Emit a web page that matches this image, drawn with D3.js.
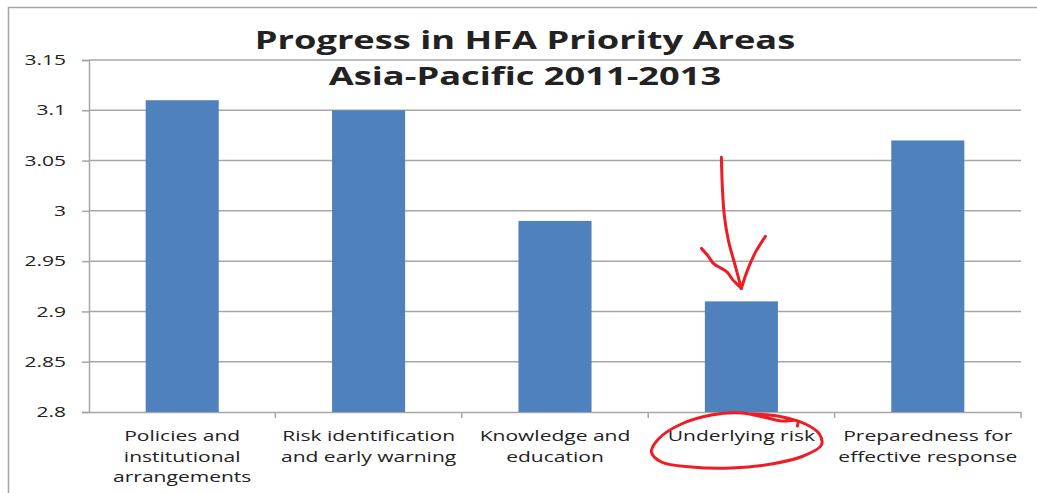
<!DOCTYPE html>
<html>
<head>
<meta charset="utf-8">
<script src="https://cdn.jsdelivr.net/npm/d3@7/dist/d3.min.js"></script>
<style>
  html, body { margin: 0; padding: 0; background: #fff; }
  svg { display: block; }
  text { font-family: "Open Sans", "Noto Sans", sans-serif; fill: #222; }
</style>
</head>
<body>
<svg id="chart" width="1037" height="493"></svg>
<script>
// Average progress score per HFA priority area, Asia-Pacific 2011-2013
const categories = [
  "Policies and institutional arrangements",
  "Risk identification and early warning",
  "Knowledge and education",
  "Underlying risk",
  "Preparedness for effective response"
];
const categoryLines = [
  ["Policies and", "institutional", "arrangements"],
  ["Risk identification", "and early warning"],
  ["Knowledge and", "education"],
  ["Underlying risk"],
  ["Preparedness for", "effective response"]
];
const scores = [3.11, 3.10, 2.99, 2.91, 3.07];
const yTicks = [2.8, 2.85, 2.9, 2.95, 3.0, 3.05, 3.1, 3.15];
const yTickLabels = ["2.8", "2.85", "2.9", "2.95", "3", "3.05", "3.1", "3.15"];
const titleLines = ["Progress in HFA Priority Areas", "Asia-Pacific 2011-2013"];
const highlighted = "Underlying risk";

const svg = d3.select("#chart");
const W = 1037, H = 493;
const plot = { left: 89, right: 1021, top: 60, bottom: 412 };
const stretch = 1.45;   // wide lettering used throughout the chart

// chart frame (top and left edges)
svg.append("path")
  .attr("d", `M8.5,${H} V7.5 H${W}`)
  .attr("fill", "none")
  .attr("stroke", "#a6a6a6")
  .attr("stroke-width", 1.5);

const x = d3.scaleBand()
  .domain(categories)
  .range([plot.left, plot.right])
  .paddingInner(0.608)
  .paddingOuter(0.304);

const y = d3.scaleLinear()
  .domain([2.8, 3.15])
  .range([plot.bottom, plot.top]);

// horizontal gridlines
svg.append("g")
  .selectAll("line")
  .data(yTicks.slice(1))
  .join("line")
  .attr("x1", plot.left)
  .attr("x2", plot.right)
  .attr("y1", d => y(d))
  .attr("y2", d => y(d))
  .attr("stroke", "#a6a6a6")
  .attr("stroke-width", 1.5);

// y axis
const tickLen = 7, tickPad = 16;
const yAxis = d3.axisLeft(y)
  .tickValues(yTicks)
  .tickFormat((d, i) => yTickLabels[i])
  .tickSize(tickLen)
  .tickPadding(tickPad);
const gy = svg.append("g")
  .attr("transform", `translate(${plot.left},0)`)
  .call(yAxis);
gy.select(".domain").attr("stroke", "#a6a6a6").attr("stroke-width", 1.5);
gy.selectAll(".tick line").attr("stroke", "#a6a6a6").attr("stroke-width", 1.5);
gy.selectAll(".tick text")
  .style("font-family", '"Open Sans", sans-serif')
  .style("font-size", "14.5px")
  .attr("fill", "#222")
  .attr("x", 0)
  .attr("transform", `translate(${-(tickLen + tickPad)},0) scale(${stretch},1)`);

// x axis with category ticks at band boundaries
const gx = svg.append("g")
  .attr("transform", `translate(0,${plot.bottom})`)
  .call(d3.axisBottom(x).tickSize(0).tickFormat(""));
gx.select(".domain").attr("stroke", "#a6a6a6").attr("stroke-width", 1.5);
const boundaries = d3.range(1, categories.length + 1).map(i => plot.left + i * x.step());
svg.append("g")
  .selectAll("line")
  .data(boundaries)
  .join("line")
  .attr("x1", d => d)
  .attr("x2", d => d)
  .attr("y1", plot.bottom)
  .attr("y2", plot.bottom + 6)
  .attr("stroke", "#a6a6a6")
  .attr("stroke-width", 1.5);

// bars
svg.append("g")
  .selectAll("rect")
  .data(scores)
  .join("rect")
  .attr("x", (d, i) => x(categories[i]))
  .attr("width", x.bandwidth())
  .attr("y", d => y(d))
  .attr("height", d => y(2.8) - y(d))
  .attr("fill", "#4f81bd");

// category labels
const labels = svg.append("g")
  .selectAll("text")
  .data(categories)
  .join("text")
  .attr("text-anchor", "middle")
  .style("font-size", "14.5px")
  .attr("transform", c => `translate(${x(c) + x.bandwidth() / 2},${plot.bottom + 29}) scale(${stretch},1)`);
labels.selectAll("tspan")
  .data((c, i) => categoryLines[i])
  .join("tspan")
  .attr("x", 0)
  .attr("dy", (d, i) => i === 0 ? 0 : 20.6)
  .text(d => d);

// title
svg.append("text")
  .attr("text-anchor", "middle")
  .attr("transform", `translate(525,0) scale(${stretch},1)`)
  .style("font-size", "25px")
  .style("font-weight", "700")
  .attr("fill", "#000")
  .selectAll("tspan")
  .data(titleLines)
  .join("tspan")
  .attr("x", 0)
  .attr("y", (d, i) => 49 + i * 36)
  .text(d => d);

// hand-drawn highlight around the weakest area
const hx = x(highlighted) + x.bandwidth() / 2;
const hv = scores[categories.indexOf(highlighted)];
const tipY = y(hv) - 13;
const pen = d3.line().curve(d3.curveCatmullRom.alpha(0.5));
const ink = "#ee1c25";

const shaft = [[-20, -131], [-19, -100], [-17, -72], [-13, -48], [-6, -22], [0, 0]];
const headLeft = [[-40, -40], [-33, -32], [-28, -25], [-20, -20], [-14, -16], [-9, -9], [-4, -4], [0, 0]];
const headRight = [[24, -52], [14, -36], [6, -18], [0, 0]];
[shaft, headLeft, headRight].forEach(pts => {
  svg.append("path")
    .attr("d", pen(pts.map(([dx, dy]) => [hx + dx, tipY + dy])))
    .attr("fill", "none")
    .attr("stroke", ink)
    .attr("stroke-width", 3)
    .attr("stroke-linecap", "round")
    .attr("stroke-linejoin", "round");
});

const loop = [
  [56, 14], [56, 9], [40, 9], [22, 5], [0, 1], [-30, 3], [-60, 12], [-82, 26], [-90, 40],
  [-80, 50], [-50, 55], [-10, 56], [30, 52], [62, 44], [80, 33], [78, 22], [64, 12], [36, 4], [10, 2]
];
const ly = plot.bottom;
svg.append("path")
  .attr("d", pen(loop.map(([dx, dy]) => [hx + dx, ly + dy])))
  .attr("fill", "none")
  .attr("stroke", ink)
  .attr("stroke-width", 3)
  .attr("stroke-linecap", "round")
  .attr("stroke-linejoin", "round");
</script>
</body>
</html>
